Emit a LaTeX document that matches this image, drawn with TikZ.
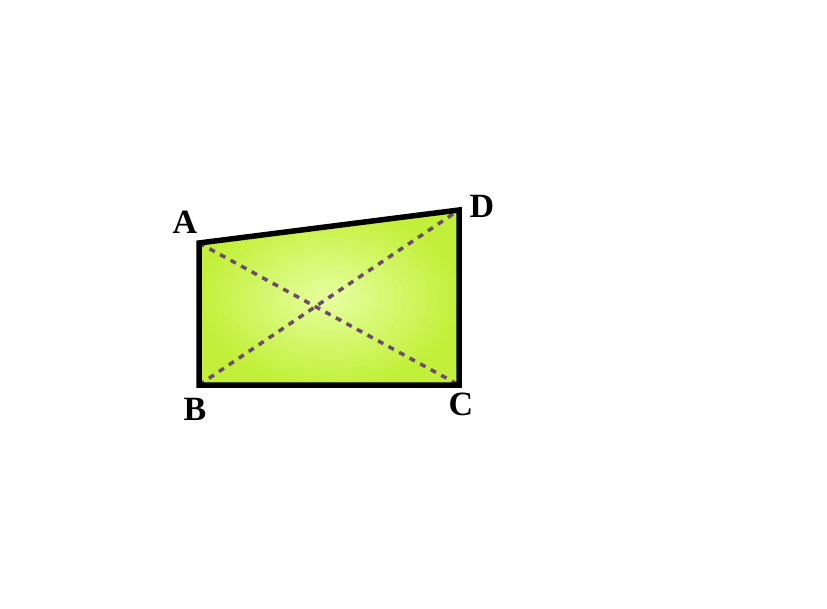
\documentclass[tikz,border=0pt]{standalone}
\usepackage{fontspec}
\setmainfont{Liberation Serif}
\usepackage{xcolor}
\definecolor{cFill}{HTML}{C2F03A}
\definecolor{cLight}{HTML}{E6FFA0}
\definecolor{cDiag}{HTML}{6E4A6C}
\usetikzlibrary{positioning}
\tikzset{
  quad-edge/.style={draw=black,line width=5.5pt,line join=miter},
  quad-diag/.style={draw=cDiag,line width=3.5pt,dash pattern=on 6pt off 6pt},
  vertex-label/.style={font=\fontsize{34}{36}\selectfont\bfseries,inner sep=0pt},
}
\begin{document}
\begin{tikzpicture}[x=1pt,y=-1pt]
  \useasboundingbox[fill=white] (0,0) rectangle (827,608);
  \coordinate (a) at (199,243);
  \coordinate (d) at (459,210);
  \coordinate (c) at (459,385);
  \coordinate (b) at (199,385);
  \shade[inner color=cLight,outer color=cFill] (a) -- (d) -- (c) -- (b) -- cycle;
  \draw[quad-diag] (a) -- (c);
  \draw[quad-diag] (b) -- (d);
  \draw[quad-edge] (a) -- (d) -- (c) -- (b) -- cycle;
  \node[vertex-label] (la) at (185,222) {A};
  \node[vertex-label] (ld) at (482,206) {D};
  \node[vertex-label] (lb) at (195,409) {B};
  \node[vertex-label] (lc) at (461,404) {C};
\end{tikzpicture}
\end{document}
